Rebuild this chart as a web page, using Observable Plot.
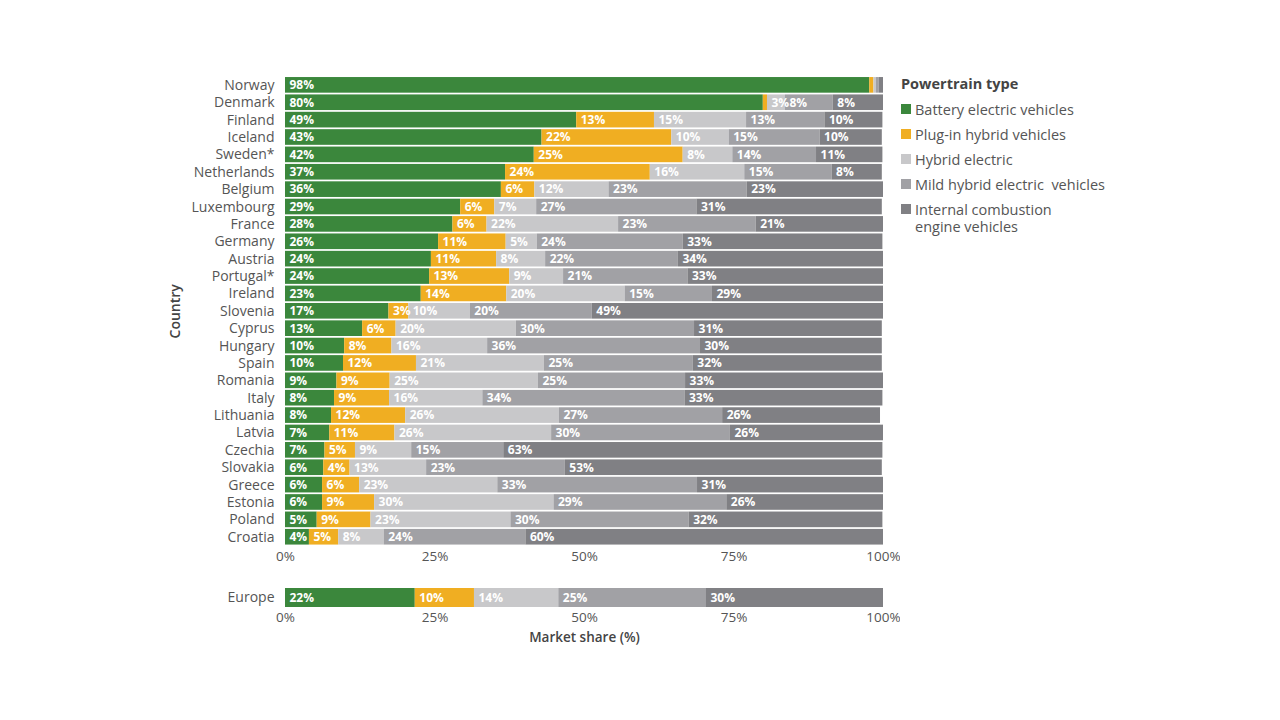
<!DOCTYPE html>
<html><head><meta charset="utf-8">
<script src="https://cdn.jsdelivr.net/npm/d3@7"></script>
<script src="https://cdn.jsdelivr.net/npm/@observablehq/plot@0.6"></script>
<style>
body{margin:0;background:#fff;font-family:"Open Sans",sans-serif;}
#wrap{position:relative;width:1280px;height:720px;overflow:hidden;}
#main{position:absolute;left:0;top:0;}
#europe{position:absolute;left:0;top:575px;}
#legend{position:absolute;left:901px;top:74px;color:#555;font-size:14.5px;}
#legend .title{font-weight:700;color:#444;line-height:20px;margin-bottom:7px;}
#legend .item{display:flex;align-items:flex-start;line-height:17px;margin-bottom:8px;}
#legend .sw{width:10px;height:10px;margin:3px 4px 0 0;flex:none;}
g[aria-label="y-axis label"] text, g[aria-label="x-axis label"] text{font-weight:600;fill:#444;}
</style></head>
<body><div id="wrap"><div id="main"></div><div id="europe"></div><div id="legend"></div></div>
<script>
const countries = ["Norway","Denmark","Finland","Iceland","Sweden*","Netherlands","Belgium","Luxembourg","France","Germany","Austria","Portugal*","Ireland","Slovenia","Cyprus","Hungary","Spain","Romania","Italy","Lithuania","Latvia","Czechia","Slovakia","Greece","Estonia","Poland","Croatia"];
const bev  = [97.7,79.9,48.7,42.9,41.6,36.8,36.1,29.3,28.0,25.6,24.4,24.1,22.7,17.3,12.9,9.9,9.7,8.6,8.2,7.7,7.4,6.6,6.4,6.2,6.2,5.3,4.0];
const phev = [0.7,0.7,13.0,21.7,24.9,24.2,5.6,5.7,5.7,11.3,10.9,13.4,14.3,3.3,5.6,7.9,12.2,8.9,9.2,12.4,10.9,5.1,4.4,6.2,8.7,9.0,4.9];
const hev  = [0.4,3.0,15.4,9.6,8.3,15.8,12.4,7.0,22.0,5.2,8.2,9.0,19.8,10.3,20.1,16.0,21.4,24.8,15.6,25.7,26.2,9.4,12.8,23.1,30.0,23.4,7.6];
const mhev = [0.5,8.0,13.1,15.2,14.0,14.6,23.1,26.8,23.0,24.4,22.2,20.8,14.6,20.4,29.8,35.6,24.9,24.6,33.8,27.3,29.9,15.4,23.2,33.4,28.9,29.8,23.7];
const ice  = [0.7,8.4,9.7,10.4,11.1,8.4,22.8,31.0,21.3,33.4,34.3,32.7,28.6,48.7,31.4,30.4,31.6,33.1,33.1,26.4,25.6,63.4,53.0,31.1,26.2,32.4,59.8];
const europe = {country:"Europe", values:[21.7,9.9,14.1,24.7,29.6]};
const types = ["Battery electric vehicles","Plug-in hybrid vehicles","Hybrid electric","Mild hybrid electric  vehicles","Internal combustion engine vehicles"];
const legendLabels = ["Battery electric vehicles","Plug-in hybrid vehicles","Hybrid electric","Mild hybrid electric&nbsp; vehicles","Internal combustion<br>engine vehicles"];
const colors = ["#3b873c","#f0ae22","#c8c8ca","#a1a1a5","#808084"];
const xTicks = [0,25,50,75,100];

const series = [bev,phev,hev,mhev,ice];
const data = [];
countries.forEach((c,i)=>types.forEach((t,j)=>data.push({country:c,type:t,value:series[j][i]})));
const eData = types.map((t,j)=>({country:europe.country,type:t,value:europe.values[j]}));

const color = {domain:types, range:colors};
const labelOf = d => d.value >= 1.5 ? Math.round(d.value)+"%" : "";

function marks(rows){
  return [
    Plot.barX(rows,{x:"value",y:"country",fill:"type",order:types}),
    Plot.text(rows,Plot.stackX1({x:"value",y:"country",z:"type",order:types,text:labelOf,
      textAnchor:"start",dx:4,fill:"white",fontWeight:"bold",fontSize:12}))
  ];
}

const main = Plot.plot({
  width:900,height:570,marginLeft:285,marginRight:17,marginTop:75.3,marginBottom:23.7,
  style:{fontFamily:"'Open Sans',sans-serif",color:"#555",fontSize:"13px",background:"white"},
  x:{domain:[0,100]},
  y:{domain:countries,padding:0.1,round:false},
  color,
  marks:[
    ...marks(data),
    Plot.axisX({anchor:"bottom",ticks:xTicks,tickFormat:d=>d+"%",tickSize:0,tickPadding:5,fontSize:13.5,label:null}),
    Plot.axisY({anchor:"left",tickSize:0,tickPadding:11,fontSize:14,label:"Country",labelAnchor:"center",labelOffset:115})
  ]
});
document.getElementById("main").appendChild(main);

const eu = Plot.plot({
  width:900,height:80,marginLeft:285,marginRight:17,marginTop:13,marginBottom:48,
  style:{fontFamily:"'Open Sans',sans-serif",color:"#555",fontSize:"13px",background:"white"},
  x:{domain:[0,100]},
  y:{domain:[europe.country],padding:0,round:false},
  color,
  marks:[
    ...marks(eData),
    Plot.axisX({anchor:"bottom",ticks:xTicks,tickFormat:d=>d+"%",tickSize:0,tickPadding:5,fontSize:13.5,
      label:"Market share (%)",labelAnchor:"center",labelArrow:false,labelOffset:34}),
    Plot.axisY({anchor:"left",tickSize:0,tickPadding:11,fontSize:14,label:null})
  ]
});
document.getElementById("europe").appendChild(eu);

const lg = d3.select("#legend");
lg.append("div").attr("class","title").text("Powertrain type");
types.forEach((t,i)=>{
  const it = lg.append("div").attr("class","item");
  it.append("div").attr("class","sw").style("background",colors[i]);
  it.append("div").html(legendLabels[i]);
});
</script></body></html>
